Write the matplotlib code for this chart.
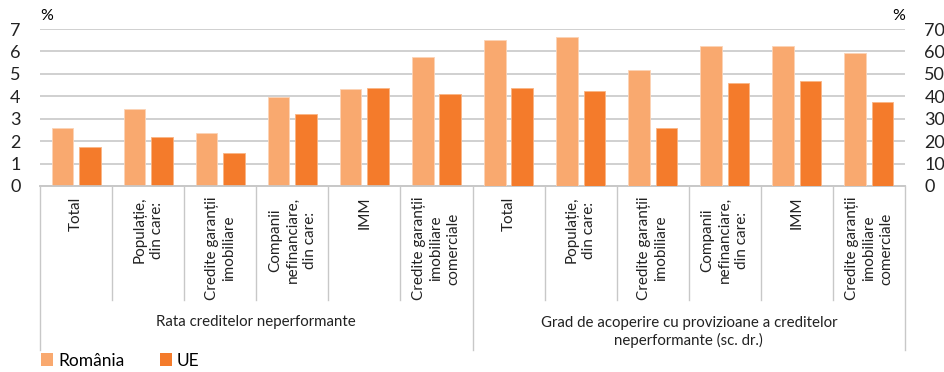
import matplotlib
matplotlib.use("Agg")
import matplotlib.pyplot as plt
from matplotlib.patches import Patch
import matplotlib.transforms as mtransforms

plt.rcParams['font.family'] = ['Lato', 'DejaVu Sans']

# categorii (aceleasi pentru ambele grupuri)
categorii = ["Total", "Populație,\ndin care:", "Credite garanții\nimobiliare",
             "Companii\nnefinanciare,\ndin care:", "IMM",
             "Credite garanții\nimobiliare\ncomerciale"]
grupuri = ["Rata creditelor neperformante",
           "Grad de acoperire cu provizioane a creditelor\nneperformante (sc. dr.)"]

# rata creditelor neperformante (%), scala stanga
rata_ro = [2.6, 3.45, 2.38, 3.96, 4.32, 5.74]
rata_ue = [1.75, 2.17, 1.45, 3.23, 4.38, 4.09]
# grad de acoperire (%), scala dreapta
acop_ro = [65.1, 66.6, 51.6, 62.3, 62.3, 59.4]
acop_ue = [43.7, 42.4, 25.9, 45.9, 46.7, 37.3]

c_ro = "#F9A96F"
c_ue = "#F47B2B"
c_grid = "#C8C8C8"
w = 0.3
off = 0.19

fig = plt.figure(figsize=(9.45, 3.72), dpi=100)
ax = fig.add_axes([0.0423, 0.5, 0.9154, 0.422])
ax2 = ax.twinx()

n = len(categorii)
x1 = list(range(n))
x2 = [i + n for i in range(n)]

ax.bar([i - off for i in x1], rata_ro, w, color=c_ro, edgecolor="#FBD3B6", linewidth=0.6, zorder=3)
ax.bar([i + off for i in x1], rata_ue, w, color=c_ue, edgecolor="#F9B585", linewidth=0.6, zorder=3)
ax2.bar([i - off for i in x2], acop_ro, w, color=c_ro, edgecolor="#FBD3B6", linewidth=0.6, zorder=3)
ax2.bar([i + off for i in x2], acop_ue, w, color=c_ue, edgecolor="#F9B585", linewidth=0.6, zorder=3)

ax.set_xlim(-0.5, 2 * n - 0.5)
ax.set_ylim(0, 7)
ax2.set_ylim(0, 70)
ax.set_yticks(range(0, 8))
ax2.set_yticks(range(0, 71, 10))
ax.yaxis.grid(True, color=c_grid, linewidth=1.2, zorder=0)
ax.set_axisbelow(True)
ax.set_xticks([])

for a in (ax, ax2):
    for s in ("top", "left", "right"):
        a.spines[s].set_visible(False)
    a.spines["bottom"].set_color(c_grid)
    a.spines["bottom"].set_linewidth(1.2)
    a.tick_params(axis="y", length=0, labelsize=13, colors="#222222")
ax.tick_params(axis="y", pad=14)
ax2.tick_params(axis="y", pad=14)

trans = mtransforms.blended_transform_factory(ax.transData, ax.transAxes)
ax.text(-0.5, 1.04, "%", transform=trans, fontsize=11.5, ha="left", va="bottom")
ax.text(2 * n - 0.5, 1.04, "%", transform=trans, fontsize=11.5, ha="right", va="bottom")

# etichete categorii
for g in range(2):
    for i, lab in enumerate(categorii):
        ax.text(g * n + i, -0.07, lab, transform=trans, rotation=90, ha="center", va="top",
                multialignment="center", fontsize=11, color="#222222", linespacing=1.3)
# linii separatoare
for k in range(2 * n + 1):
    y_end = -1.045 if k % n == 0 else -0.726
    ax.plot([k - 0.5, k - 0.5], [0, y_end], transform=trans, color=c_grid, linewidth=1.0, clip_on=False)
# etichete grupuri
ax.text(n / 2 - 0.5, -0.866, grupuri[0], transform=trans, ha="center", va="center",
        fontsize=10.8, color="#222222")
ax.text(n + n / 2 - 0.5, -0.93, grupuri[1], transform=trans, ha="center", va="center",
        fontsize=10.8, color="#222222", linespacing=1.25)

handles = [Patch(facecolor=c_ro, edgecolor="none"), Patch(facecolor=c_ue, edgecolor="none")]
fig.legend(handles, ["România", "UE"], loc="lower left", bbox_to_anchor=(0.04, 0.0), ncol=2,
           frameon=False, fontsize=12.5, handlelength=0.7, handleheight=0.7, handletextpad=0.3,
           columnspacing=2.0, borderpad=0.1, borderaxespad=0.1)

fig.savefig("out.png", dpi=100)
